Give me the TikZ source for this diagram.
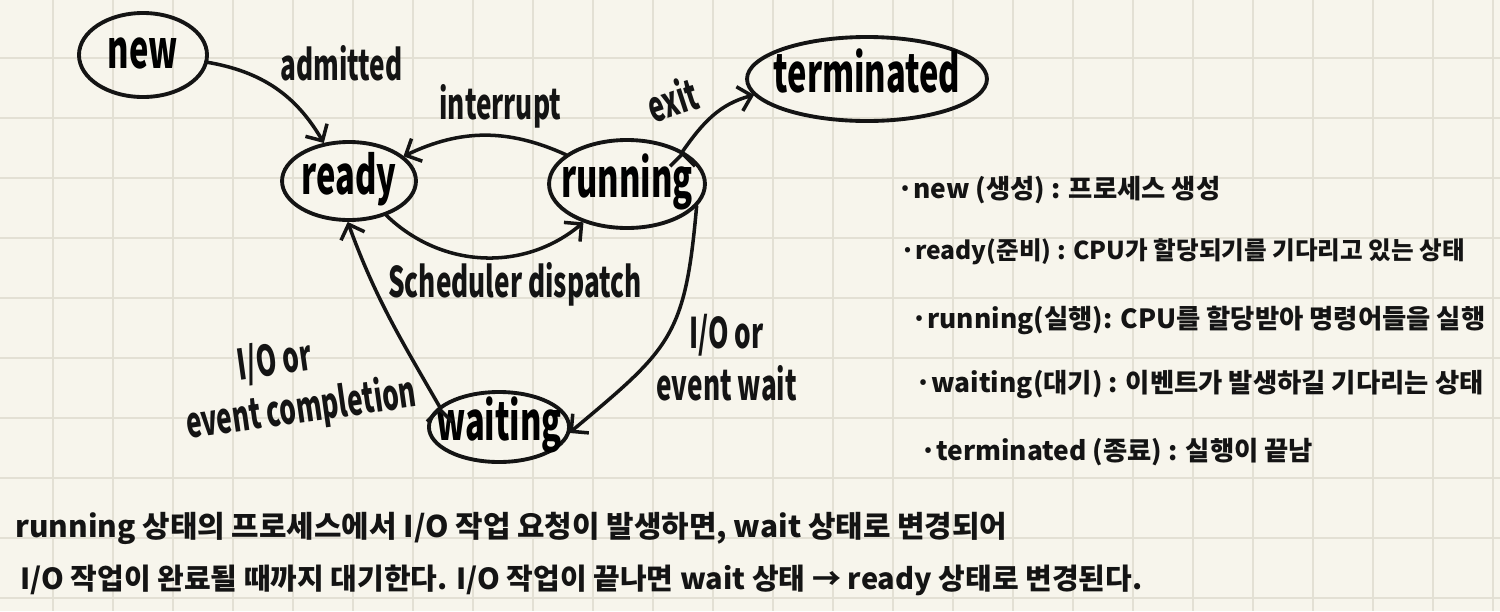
\documentclass[tikz,border=0pt]{standalone}
\usepackage{fontspec}
\setmainfont{Noto Sans CJK KR}
\usetikzlibrary{shapes.geometric, arrows.meta}
\definecolor{paper}{HTML}{F7F5EC}
\definecolor{gridgray}{HTML}{E3E0D4}
\definecolor{ink}{HTML}{141414}
\tikzset{
proc/.style={ellipse, draw=ink, line width=2.2pt, inner xsep=-5mm, inner ysep=0pt, text height=15pt, text depth=0pt, xscale=0.62, font=\fontsize{30}{36}\selectfont\bfseries}, % the process states
lbl/.style={xscale=0.62, align=center, text=ink, font=\fontsize{24}{28}\selectfont\bfseries}, % text on the transitions
flow/.style={draw=ink, line width=2pt, line cap=round, -{Straight Barb[length=2.5mm, width=5mm]}}, % makes the edges directed
gridline/.style={draw=gridgray, line width=1.5pt}, % squared paper
note/.style={anchor=west, inner sep=0pt, text=ink, font=\fontsize{15}{18}\selectfont\bfseries}, % written notes
}
\begin{document}
\begin{tikzpicture}[x=0.2mm, y=-0.2mm]
\useasboundingbox[fill=paper] (0,0) rectangle (1500,611);
\foreach \gx in {53,113,...,1493} \draw[gridline] (\gx,0) -- (\gx,611);
\foreach \gy in {58,118,...,598} \draw[gridline] (0,\gy) -- (1500,\gy);

\node[proc, minimum width=41.3mm, minimum height=16.8mm] (new) at (143,55) {new};
\node[proc, minimum width=43.2mm, minimum height=15.6mm] (ready) at (349,181) {ready};
\node[proc, minimum width=50.3mm, minimum height=17.6mm] (running) at (627,184) {running};
\node[proc, minimum width=45.2mm, minimum height=14mm] (waiting) at (499,427) {waiting};
\node[proc, minimum width=77.4mm, minimum height=16.8mm] (terminated) at (867,79) {terminated};

% anchor angles are taken before the xscale of the states
\draw[flow] (new) edge[bend left=25] node[lbl, above right] {admitted} (ready)
	(running) edge[bend right=25] node[lbl, above, pos=0.4] {interrupt} (ready)
	(ready) edge[bend right=42] node[lbl, below, pos=0.65] {Scheduler dispatch} (running)
	(running.20) edge[out=55, in=195] node[rotate=18, lbl, above left, pos=0.45, yshift=1mm] {exit} (terminated.185);

\draw[flow] (running.-11) edge[out=-95, in=40, looseness=1.3] node[lbl, right, pos=0.62] {I/O or\\[2pt]event wait} (waiting.-3)
	(waiting.168) edge[out=120, in=-70] node[rotate=8, lbl, left, pos=0.2] {I/O or\hspace*{1.5em}\\[1pt]event completion} (ready.-93);

% what each state means
\node[note] (defnew) at (897,190) {·new (생성) : 프로세스 생성};
\node[note, font=\fontsize{14}{18}\selectfont\bfseries] (defready) at (900,252) {·ready(준비) : CPU가 할당되기를 기다리고 있는 상태};
\node[note] (defrunning) at (911,320) {·running(실행): CPU를 할당받아 명령어들을 실행};
\node[note] (defwaiting) at (915,385) {·waiting(대기) : 이벤트가 발생하길 기다리는 상태};
\node[note] (defterminated) at (920,452) {·terminated (종료) : 실행이 끝남};

% summary
\node[note, font=\fontsize{17}{20}\selectfont\bfseries] (sum1) at (15,528) {running 상태의 프로세스에서 I/O 작업 요청이 발생하면, wait 상태로 변경되어};
\node[note, font=\fontsize{16.5}{20}\selectfont\bfseries] (sum2) at (20,580) {I/O 작업이 완료될 때까지 대기한다. I/O 작업이 끝나면 wait 상태 → ready 상태로 변경된다.};
\end{tikzpicture}
\end{document}
